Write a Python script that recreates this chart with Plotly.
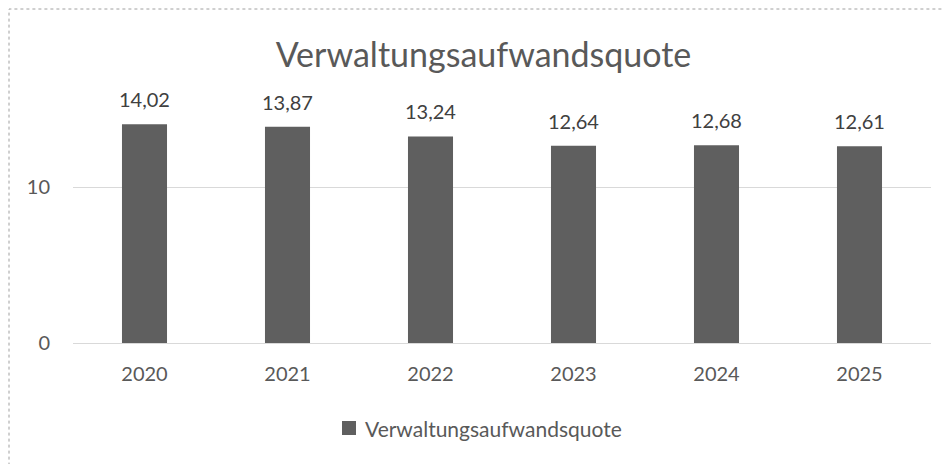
import plotly.graph_objects as go

years = ["2020", "2021", "2022", "2023", "2024", "2025"]
values = [14.02, 13.87, 13.24, 12.64, 12.68, 12.61]
series_name = "Verwaltungsaufwandsquote"
title_text = "Verwaltungsaufwandsquote"

FONT = "Lato, Open Sans, sans-serif"
TXT = "#595959"
BAR = "#5f5f5f"

# page layout helpers (page is offset by 8px body margin)
PL, PR, PT, PB = 73, 931, 109, 343
def px(x):
    return (x - PL) / (PR - PL)
def py(y):
    return (PB - y) / (PB - PT)

fig = go.Figure()
fig.add_trace(go.Bar(
    x=years, y=values, name=series_name,
    marker=dict(color=BAR, line=dict(width=0)),
    showlegend=False,
))

annotations = [
    dict(x=i, y=v, xref="x", yref="y", text=f"{v:.2f}".replace(".", ","),
         showarrow=False, yanchor="middle", yshift=25,
         font=dict(size=20, color="#404040", family=FONT))
    for i, v in enumerate(values)
]
annotations.append(dict(x=px(363), y=py(428), xref="paper", yref="paper",
                        text=series_name, showarrow=False, xanchor="left", yanchor="middle",
                        font=dict(size=21, color=TXT, family=FONT)))

fig.update_layout(
    width=942, height=456,
    margin=dict(l=65, r=19, t=101, b=121),
    paper_bgcolor="white", plot_bgcolor="white",
    separators=",.",
    bargap=0.685,
    font=dict(family=FONT, color=TXT),
    title=dict(text=title_text, xref="paper", x=px(483.5), xanchor="center",
               y=1 - (55 - 8) / 456, yanchor="middle",
               font=dict(size=34, color=TXT, family=FONT)),
    xaxis=dict(type="category", range=[-0.5, len(years) - 0.5], showgrid=False, showline=False,
               ticks="", ticklabelstandoff=17, tickfont=dict(size=20, color=TXT)),
    yaxis=dict(range=[0, 15], dtick=10, showgrid=True, gridcolor="#d9d9d9", gridwidth=1,
               zeroline=True, zerolinecolor="#d9d9d9", zerolinewidth=1,
               ticks="", ticklabelstandoff=22, tickfont=dict(size=20, color=TXT)),
    annotations=annotations,
    shapes=[
        dict(type="rect", xref="paper", yref="paper",
             x0=px(9), x1=1.2, y0=-0.8, y1=py(9),
             line=dict(color="#a0a0a0", width=1, dash="dot")),
        dict(type="rect", xref="paper", yref="paper",
             x0=px(342), x1=px(356), y0=py(435), y1=py(421),
             fillcolor=BAR, line=dict(width=0)),
    ],
)

fig.write_html("out.html")
